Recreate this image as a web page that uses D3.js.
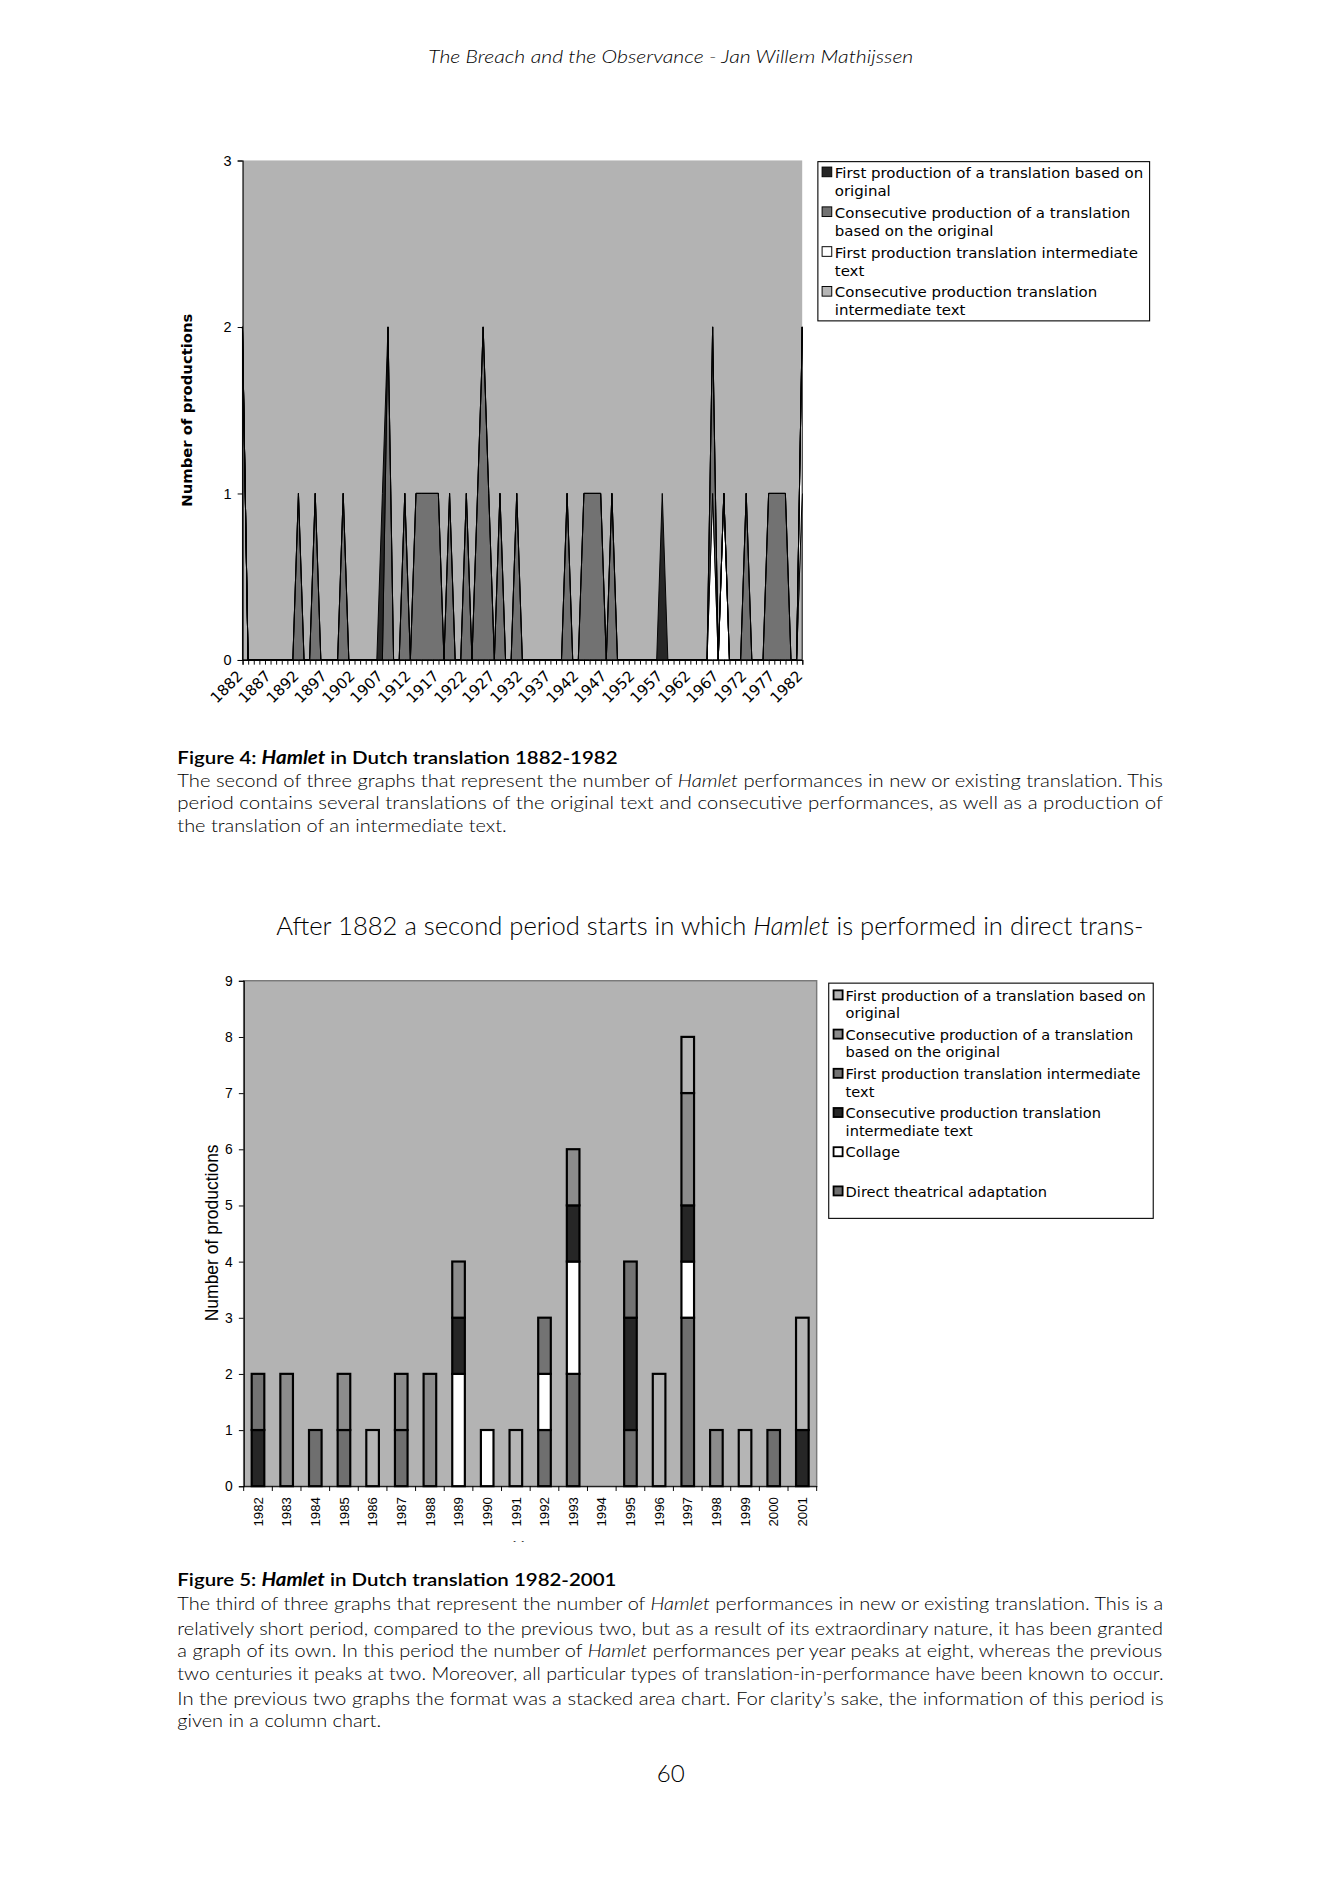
<!DOCTYPE html>
<html>
<head>
<meta charset="utf-8">
<script src="https://cdn.jsdelivr.net/npm/d3@7"></script>
<style>
  body { margin: 0; background: #fff; }
  svg { display: block; }
</style>
</head>
<body>
<div id="page"></div>
<script>
// === DATA ===
// Figure 4 (stacked area, one category per year 1882-1982); non-zero years only
const areaYears = d3.range(1882, 1983);
const areaKeys = ["consIntermediate", "firstIntermediate", "consOriginal", "firstOriginal"]; // bottom -> top
const consIntermediate1 = [[1882, 2], [1982, 1]];
const firstIntermediate1 = [[1966, 1], [1968, 1], [1982, 1]];
const consOriginal1 = [
  [1892, 1], [1895, 1], [1900, 1], [1908, 2], [1911, 1],
  [1913, 1], [1914, 1], [1915, 1], [1916, 1], [1917, 1],
  [1919, 1], [1922, 1], [1924, 1], [1925, 2], [1926, 1],
  [1928, 1], [1931, 1], [1940, 1], [1943, 1], [1944, 1],
  [1945, 1], [1946, 1], [1948, 1], [1966, 1], [1972, 1],
  [1976, 1], [1977, 1], [1978, 1], [1979, 1]
];
const firstOriginal1 = [[1907, 1], [1957, 1]];
const areaTickLabels = d3.range(1882, 1983, 5);
const areaYTicks = [0, 1, 2, 3];
const areaLegend = [
  ["First production of a translation based on", "original"],
  ["Consecutive production of a translation", "based on the original"],
  ["First production translation intermediate", "text"],
  ["Consecutive production translation", "intermediate text"]
];

// Figure 5 (stacked columns 1982-2001)
const barYears = [1982, 1983, 1984, 1985, 1986, 1987, 1988, 1989, 1990, 1991,
                  1992, 1993, 1994, 1995, 1996, 1997, 1998, 1999, 2000, 2001];
const barKeys = ["direct", "collage", "consInter", "firstInter", "consOrig", "firstOrig"]; // bottom -> top
const direct2     = [0, 0, 1, 1, 0, 1, 0, 0, 0, 0, 1, 2, 0, 1, 0, 3, 0, 0, 1, 0];
const collage2    = [0, 0, 0, 0, 0, 0, 0, 2, 1, 0, 1, 2, 0, 0, 0, 1, 0, 0, 0, 0];
const consInter2  = [1, 0, 0, 0, 0, 0, 0, 1, 0, 0, 0, 1, 0, 2, 0, 1, 0, 0, 0, 1];
const firstInter2 = [1, 0, 0, 0, 0, 0, 0, 0, 0, 0, 1, 0, 0, 1, 0, 0, 0, 0, 0, 0];
const consOrig2   = [0, 2, 0, 1, 0, 1, 2, 1, 0, 0, 0, 1, 0, 0, 0, 2, 1, 0, 0, 0];
const firstOrig2  = [0, 0, 0, 0, 1, 0, 0, 0, 0, 1, 0, 0, 0, 0, 2, 1, 0, 1, 0, 2];
const barYTicks = [0, 1, 2, 3, 4, 5, 6, 7, 8, 9];
const barLegend = [
  ["firstOrig", "First production of a translation based on", "original"],
  ["consOrig", "Consecutive production of a translation", "based on the original"],
  ["firstInter", "First production translation intermediate", "text"],
  ["consInter", "Consecutive production translation", "intermediate text"],
  ["collage", "Collage", ""],
  ["direct", "Direct theatrical adaptation", ""]
];

// === PAGE ===
// page drawn in a 1110-wide coordinate frame, scaled up to 1339 px
const W = 1110, H = 1890 * W / 1339;
const svg = d3.select("#page").append("svg")
  .attr("width", 1339).attr("height", 1890)
  .attr("viewBox", `0 0 ${W} ${H}`);

const bodyFont = "Lato, 'Open Sans', sans-serif";
const chartFont = "'Liberation Sans', Arial, sans-serif";
const legendFont = "'DejaVu Sans', Verdana, sans-serif";

// text line made of styled parts, squeezed horizontally to a target width
function textLine(x, y, parts, size, target, opts = {}) {
  const g = svg.append("g");
  const t = g.append("text")
    .attr("font-family", opts.font || bodyFont)
    .attr("font-size", size)
    .attr("font-weight", opts.weight || 400)
    .attr("fill", "#000");
  parts.forEach(p => {
    const s = t.append("tspan").text(p[0]);
    if (p[1] && p[1].includes("i")) s.attr("font-style", "italic");
    if (p[1] && p[1].includes("b")) s.attr("font-weight", 700);
    if (p[1] && p[1].includes("m")) s.attr("font-weight", 600);
  });
  const w = t.node().getComputedTextLength();
  const k = target ? target / w : 1;
  const x0 = opts.center ? x - (w * k) / 2 : x;
  g.attr("transform", `translate(${x0},${y}) scale(${k},1)`);
  return g;
}

// header
textLine(556, 52, [["The Breach and the Observance - Jan Willem Mathijssen", "i"]], 15, 402,
  { center: true, weight: 300 });

// === FIGURE 4: STACKED AREA ===
const a = { left: 201, right: 665, top: 133, bottom: 547 };
const ax = d3.scaleLinear().domain([1882, 1982]).range([a.left, a.right]);
const ay = d3.scaleLinear().domain([0, 3]).range([a.bottom, a.top]);

const seriesMap = {
  consIntermediate: new Map(consIntermediate1),
  firstIntermediate: new Map(firstIntermediate1),
  consOriginal: new Map(consOriginal1),
  firstOriginal: new Map(firstOriginal1)
};
const areaRows = areaYears.map(yr => {
  const row = { year: yr };
  areaKeys.forEach(k => row[k] = seriesMap[k].get(yr) || 0);
  return row;
});
const areaColor = d3.scaleOrdinal()
  .domain(areaKeys)
  .range(["#b6b6b6", "#ffffff", "#727272", "#262626"]);

const g1 = svg.append("g");
g1.append("rect")
  .attr("x", a.left).attr("y", a.top)
  .attr("width", a.right - a.left).attr("height", a.bottom - a.top)
  .attr("fill", "#b3b3b3");

const stackA = d3.stack().keys(areaKeys)(areaRows);
const areaGen = d3.area()
  .x(d => ax(d.data.year))
  .y0(d => ay(d[0]))
  .y1(d => ay(d[1]));
g1.selectAll("path.area")
  .data(stackA)
  .join("path")
  .attr("class", "area")
  .attr("d", areaGen)
  .attr("fill", d => areaColor(d.key))
  .attr("stroke", "#000")
  .attr("stroke-width", 0.8)
  .attr("stroke-linejoin", "miter");

// axes
const yAxis1 = g1.append("g")
  .attr("transform", `translate(${a.left},0)`)
  .call(d3.axisLeft(ay).tickValues(areaYTicks).tickSize(4).tickPadding(5).tickFormat(d3.format("d")));
const xAxis1 = g1.append("g")
  .attr("transform", `translate(0,${a.bottom})`)
  .call(d3.axisBottom(ax).tickValues(areaYears).tickSize(4).tickFormat(""));
[yAxis1, xAxis1].forEach(s => {
  s.select(".domain").attr("stroke", "#000").attr("stroke-width", 0.9);
  s.selectAll(".tick line").attr("stroke", "#000").attr("stroke-width", 0.8);
});
yAxis1.selectAll("text").attr("font-family", chartFont).attr("font-size", 12).attr("fill", "#000");

g1.selectAll("text.xlab")
  .data(areaTickLabels)
  .join("text")
  .attr("class", "xlab")
  .attr("transform", d => `translate(${ax(d) - 2},${a.bottom + 11}) rotate(-45)`)
  .attr("text-anchor", "end")
  .attr("dy", "0.35em")
  .attr("font-family", legendFont)
  .attr("font-size", 12.5)
  .text(d => d);

g1.append("text")
  .attr("transform", `translate(159,340) rotate(-90)`)
  .attr("text-anchor", "middle")
  .attr("font-family", legendFont)
  .attr("font-weight", 700)
  .attr("font-size", 12.3)
  .text("Number of productions");

// legend 1
const l1 = { x: 678, y: 134, w: 275, h: 132 };
g1.append("rect")
  .attr("x", l1.x).attr("y", l1.y).attr("width", l1.w).attr("height", l1.h)
  .attr("fill", "#fff").attr("stroke", "#000").attr("stroke-width", 0.9);
const legendKeysTopDown = areaKeys.slice().reverse();
areaLegend.forEach((lines, i) => {
  const cy = l1.y + 9 + i * 33;
  g1.append("rect")
    .attr("x", l1.x + 3.5).attr("y", cy - 4.5).attr("width", 8).attr("height", 8)
    .attr("fill", areaColor(legendKeysTopDown[i]))
    .attr("stroke", "#000").attr("stroke-width", 0.8);
  lines.forEach((ln, j) => {
    g1.append("text")
      .attr("x", l1.x + 14).attr("y", cy + 4.5 + j * 15)
      .attr("font-family", legendFont).attr("font-size", 12)
      .attr("class", "leg1")
      .text(ln);
  });
});

// captions figure 4
textLine(147, 633, [["Figure 4: ", "m"], ["Hamlet", "bi"], [" in Dutch translation 1882-1982", "m"]], 15, 365);
textLine(147, 652, [["The second of three graphs that represent the number of "], ["Hamlet", "i"],
  [" performances in new or existing translation. This"]], 15, 817, { weight: 300 });
textLine(147, 671, [["period contains several translations of the original text and consecutive performances, as well as a production of"]], 15, 817, { weight: 300 });
textLine(147, 690, [["the translation of an intermediate text."]], 15, 273, { weight: 300 });

textLine(229, 775, [["After 1882 a second period starts in which "], ["Hamlet", "i"],
  [" is performed in direct trans-"]], 21, 719, { weight: 300 });

// === FIGURE 5: STACKED COLUMNS ===
const b = { left: 202, right: 677, top: 813, bottom: 1232 };
const bx = d3.scaleBand().domain(barYears).range([b.left, b.right]).padding(0);
const by = d3.scaleLinear().domain([0, 9]).range([b.bottom, b.top]);
const barWidth = bx.bandwidth() * 0.44;

const barSeries = {
  direct: direct2, collage: collage2, consInter: consInter2,
  firstInter: firstInter2, consOrig: consOrig2, firstOrig: firstOrig2
};
const barRows = barYears.map((yr, i) => {
  const row = { year: yr };
  barKeys.forEach(k => row[k] = barSeries[k][i]);
  return row;
});
const barColor = d3.scaleOrdinal()
  .domain(barKeys)
  .range(["#6f6f6f", "#ffffff", "#262626", "#737373", "#8c8c8c", "#b5b5b5"]);

const g2 = svg.append("g");
g2.append("rect")
  .attr("x", b.left).attr("y", b.top)
  .attr("width", b.right - b.left).attr("height", b.bottom - b.top)
  .attr("fill", "#b3b3b3").attr("stroke", "#7a7a7a").attr("stroke-width", 1.2);

const stackB = d3.stack().keys(barKeys)(barRows);
g2.selectAll("g.layer")
  .data(stackB)
  .join("g")
  .attr("class", "layer")
  .attr("fill", d => barColor(d.key))
  .selectAll("rect")
  .data(d => d.filter(v => v[1] > v[0]))
  .join("rect")
  .attr("x", d => bx(d.data.year) + (bx.bandwidth() - barWidth) / 2)
  .attr("width", barWidth)
  .attr("y", d => by(d[1]))
  .attr("height", d => by(d[0]) - by(d[1]))
  .attr("stroke", "#000")
  .attr("stroke-width", 1.8);

const yAxis2 = g2.append("g")
  .attr("transform", `translate(${b.left},0)`)
  .call(d3.axisLeft(by).tickValues(barYTicks).tickSize(4).tickPadding(5).tickFormat(d3.format("d")));
const xAxis2 = g2.append("g")
  .attr("transform", `translate(0,${b.bottom})`)
  .call(d3.axisBottom(bx).tickSize(0).tickFormat(""));
// category boundary ticks
g2.selectAll("line.xtick")
  .data(barYears.concat([null]))
  .join("line")
  .attr("class", "xtick")
  .attr("x1", (d, i) => b.left + i * bx.step())
  .attr("x2", (d, i) => b.left + i * bx.step())
  .attr("y1", b.bottom).attr("y2", b.bottom + 4)
  .attr("stroke", "#000").attr("stroke-width", 0.8);
[yAxis2, xAxis2].forEach(s => {
  s.select(".domain").attr("stroke", "#000").attr("stroke-width", 0.9);
  s.selectAll(".tick line").attr("stroke", "#000").attr("stroke-width", 0.8);
});
yAxis2.selectAll("text").attr("font-family", chartFont).attr("font-size", 11.5).attr("fill", "#000");

g2.selectAll("text.xlab")
  .data(barYears)
  .join("text")
  .attr("class", "xlab")
  .attr("transform", d => `translate(${bx(d) + bx.bandwidth() / 2},${b.bottom + 9}) rotate(-90)`)
  .attr("text-anchor", "end")
  .attr("dy", "0.35em")
  .attr("font-family", chartFont)
  .attr("font-size", 11)
  .text(d => d);

g2.append("text")
  .attr("transform", `translate(181,1022) rotate(-90)`)
  .attr("text-anchor", "middle")
  .attr("font-family", chartFont)
  .attr("font-size", 14.5)
  .text("Number of productions");

// axis title cut off by the page layout
svg.append("clipPath").attr("id", "yearClip")
  .append("rect").attr("x", 380).attr("y", 1272).attr("width", 120).attr("height", 6);
g2.append("text")
  .attr("clip-path", "url(#yearClip)")
  .attr("x", (b.left + b.right) / 2).attr("y", 1287)
  .attr("text-anchor", "middle")
  .attr("font-family", chartFont).attr("font-size", 14)
  .text("Year");

// legend 2
const l2 = { x: 687, y: 815, w: 269, h: 195 };
g2.append("rect")
  .attr("x", l2.x).attr("y", l2.y).attr("width", l2.w).attr("height", l2.h)
  .attr("fill", "#fff").attr("stroke", "#000").attr("stroke-width", 0.9);
barLegend.forEach((entry, i) => {
  const cy = l2.y + 10 + i * 32.5;
  g2.append("rect")
    .attr("x", l2.x + 4).attr("y", cy - 4).attr("width", 7.5).attr("height", 7.5)
    .attr("fill", barColor(entry[0]))
    .attr("stroke", "#000").attr("stroke-width", 1.5);
  [entry[1], entry[2]].forEach((ln, j) => {
    if (!ln) return;
    g2.append("text")
      .attr("x", l2.x + 14).attr("y", cy + 4.5 + j * 14.5)
      .attr("font-family", legendFont).attr("font-size", 12)
      .attr("class", "leg2")
      .text(ln);
  });
});

// squeeze legend text to match widths of the reference
function squeeze(cls, refText, target) {
  const nodes = svg.selectAll("text." + cls);
  let ref = null;
  nodes.each(function () { if (this.textContent === refText) ref = this; });
  if (!ref) return;
  const k = target / ref.getComputedTextLength();
  nodes.each(function () {
    const x = +this.getAttribute("x");
    this.setAttribute("transform", `translate(${x * (1 - k)},0) scale(${k},1)`);
  });
}
squeeze("leg1", "First production of a translation based on", 256);
squeeze("leg2", "First production of a translation based on", 249);

// captions figure 5
textLine(147, 1315, [["Figure 5: ", "m"], ["Hamlet", "bi"], [" in Dutch translation 1982-2001", "m"]], 15, 364);
textLine(147, 1335, [["The third of three graphs that represent the number of "], ["Hamlet", "i"],
  [" performances in new or existing translation. This is a"]], 15, 817, { weight: 300 });
textLine(147, 1355, [["relatively short period, compared to the previous two, but as a result of its extraordinary nature, it has been granted"]], 15, 817, { weight: 300 });
textLine(147, 1374, [["a graph of its own. In this period the number of "], ["Hamlet", "i"],
  [" performances per year peaks at eight, whereas the previous"]], 15, 817, { weight: 300 });
textLine(147, 1393, [["two centuries it peaks at two. Moreover, all particular types of translation-in-performance have been known to occur."]], 15, 817, { weight: 300 });
textLine(147, 1413, [["In the previous two graphs the format was a stacked area chart. For clarity\u2019s sake, the information of this period is"]], 15, 817, { weight: 300 });
textLine(147, 1432, [["given in a column chart."]], 15, 169, { weight: 300 });

textLine(556, 1477, [["60"]], 20, null, { center: true, weight: 300 });
</script>
</body>
</html>
